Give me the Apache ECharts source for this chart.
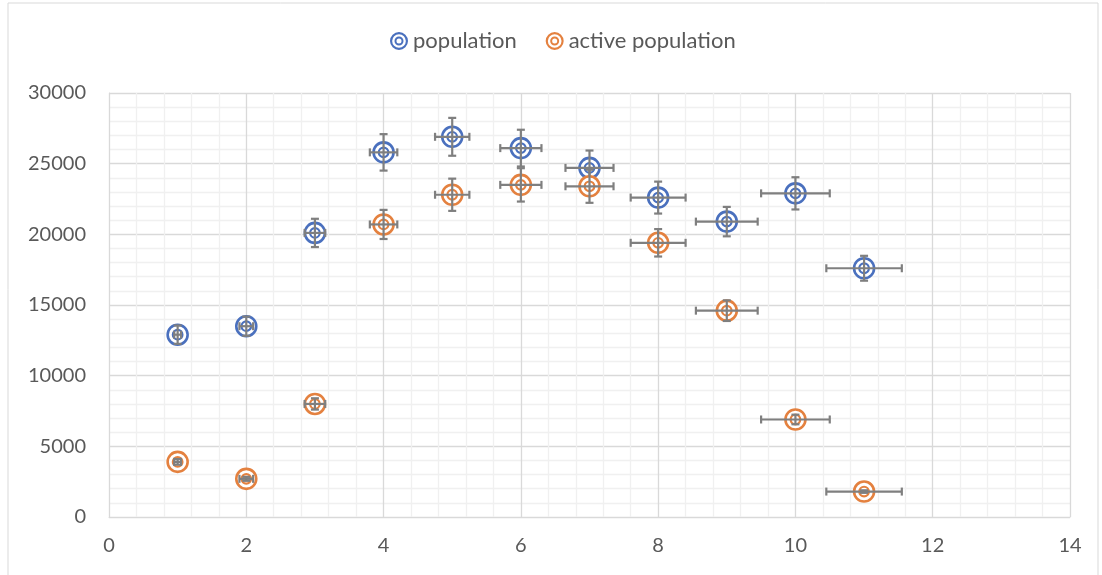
<!DOCTYPE html>
<html><head><meta charset="utf-8">
<script src="https://cdn.jsdelivr.net/npm/echarts@6/dist/echarts.min.js"></script>
<style>html,body{margin:0;padding:0;background:#fff}#c{width:1102px;height:575px}</style>
</head><body><div id="c"></div>
<script>
// ---- data ----
var xValues = [1, 2, 3, 4, 5, 6, 7, 8, 9, 10, 11];
var population = [12900, 13500, 20100, 25800, 26900, 26100, 24700, 22600, 20900, 22900, 17600];
var activePopulation = [3900, 2700, 8000, 20700, 22800, 23500, 23400, 19400, 14600, 6900, 1800];
var xError = [0.05, 0.1, 0.15, 0.2, 0.25, 0.3, 0.35, 0.4, 0.45, 0.5, 0.55];
var populationYError = [650, 680, 1000, 1290, 1340, 1300, 1230, 1130, 1040, 1140, 880];
var activeYError = [200, 140, 400, 1030, 1140, 1180, 1170, 970, 730, 340, 90];
var seriesNames = ['population', 'active population'];
var xTicks = [0, 2, 4, 6, 8, 10, 12, 14];
var yTicks = [0, 5000, 10000, 15000, 20000, 25000, 30000];

var COLORS = ['#4A70BE', '#E4813F'];
var ERR = '#7F7F7F';
var FONT = 'Lato, "Noto Sans", sans-serif';

function buildData(ys, eys) {
  return xValues.map(function (x, i) { return [x, ys[i], xError[i], eys[i]]; });
}

function makeRender(color) {
  return function (params, api) {
    var x = api.value(0), y = api.value(1), ex = api.value(2), ey = api.value(3);
    var c = api.coord([x, y]);
    var l = api.coord([x - ex, y]), r = api.coord([x + ex, y]);
    var t = api.coord([x, y + ey]), b = api.coord([x, y - ey]);
    var cap = 4;
    var ls = { stroke: ERR, lineWidth: 2.2 };
    return {
      type: 'group',
      children: [
        { type: 'circle', shape: { cx: c[0], cy: c[1], r: 10 }, style: { fill: '#fff', stroke: color, lineWidth: 2.6 } },
        { type: 'circle', shape: { cx: c[0], cy: c[1], r: 4.8 }, style: { fill: 'rgba(0,0,0,0)', stroke: color, lineWidth: 2.2 } },
        { type: 'line', shape: { x1: l[0], y1: l[1], x2: r[0], y2: r[1] }, style: ls },
        { type: 'line', shape: { x1: l[0], y1: l[1] - cap, x2: l[0], y2: l[1] + cap }, style: ls },
        { type: 'line', shape: { x1: r[0], y1: r[1] - cap, x2: r[0], y2: r[1] + cap }, style: ls },
        { type: 'line', shape: { x1: t[0], y1: t[1], x2: b[0], y2: b[1] }, style: ls },
        { type: 'line', shape: { x1: t[0] - cap, y1: t[1], x2: t[0] + cap, y2: t[1] }, style: ls },
        { type: 'line', shape: { x1: b[0] - cap, y1: b[1], x2: b[0] + cap, y2: b[1] }, style: ls }
      ]
    };
  };
}

// ring icon (nonzero winding creates holes)
function ring(r) { return 'M 0 ' + (-r) + ' A ' + r + ' ' + r + ' 0 1 1 0 ' + r + ' A ' + r + ' ' + r + ' 0 1 1 0 ' + (-r) + ' Z '; }
function ringRev(r) { return 'M 0 ' + (-r) + ' A ' + r + ' ' + r + ' 0 1 0 0 ' + r + ' A ' + r + ' ' + r + ' 0 1 0 0 ' + (-r) + ' Z '; }
var ICON = 'path://' + ring(10) + ringRev(7.6) + ring(5) + ringRev(2.8);

var chart = echarts.init(document.getElementById('c'));
chart.setOption({
  animation: false,
  backgroundColor: '#fff',
  graphic: [{ type: 'rect', shape: { x: 8, y: 3, width: 1090, height: 600 }, style: { fill: 'none', stroke: '#D9D9D9', lineWidth: 1 }, silent: true }],
  legend: {
    top: 25, left: 385, itemWidth: 18, itemHeight: 18, itemGap: 29,
    textStyle: { color: '#595959', fontSize: 22, fontFamily: FONT },
    data: seriesNames.map(function (n, i) { return { name: n, icon: ICON, itemStyle: { color: COLORS[i] } }; })
  },
  grid: { left: 109, right: 32, top: 93, bottom: 58, containLabel: false },
  xAxis: {
    type: 'value', min: xTicks[0], max: xTicks[xTicks.length - 1], interval: 2,
    axisLine: { show: true, lineStyle: { color: '#D9D9D9', width: 1 } },
    axisTick: { show: false },
    axisLabel: { color: '#595959', fontSize: 20, fontFamily: FONT, margin: 19 },
    splitLine: { show: true, lineStyle: { color: '#D9D9D9', width: 1.3 } },
    minorTick: { show: false, splitNumber: 5 },
    minorSplitLine: { show: true, lineStyle: { color: '#F0F0F0', width: 1.3 } }
  },
  yAxis: {
    type: 'value', min: yTicks[0], max: yTicks[yTicks.length - 1], interval: 5000,
    axisLine: { show: true, lineStyle: { color: '#D9D9D9', width: 1 } },
    axisTick: { show: false },
    axisLabel: { color: '#595959', fontSize: 20, fontFamily: FONT, margin: 23, formatter: function (v) { return String(v); } },
    splitLine: { show: true, lineStyle: { color: '#D9D9D9', width: 1.3 } },
    minorTick: { show: false, splitNumber: 5 },
    minorSplitLine: { show: true, lineStyle: { color: '#F0F0F0', width: 1.3 } }
  },
  series: [
    { name: seriesNames[0], type: 'custom', itemStyle: { color: COLORS[0] }, renderItem: makeRender(COLORS[0]),
      encode: { x: 0, y: 1 }, data: buildData(population, populationYError), z: 3 },
    { name: seriesNames[1], type: 'custom', itemStyle: { color: COLORS[1] }, renderItem: makeRender(COLORS[1]),
      encode: { x: 0, y: 1 }, data: buildData(activePopulation, activeYError), z: 4 }
  ]
});
</script></body></html>
